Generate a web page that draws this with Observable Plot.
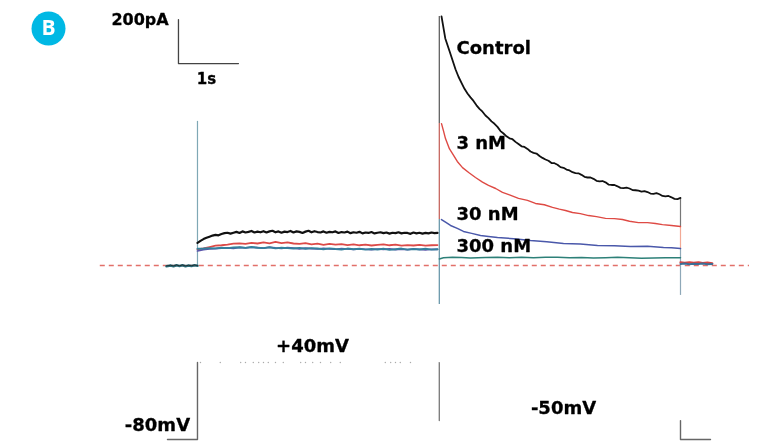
<!DOCTYPE html>
<html><head><meta charset="utf-8">
<script src="https://cdn.jsdelivr.net/npm/d3@7"></script>
<script src="https://cdn.jsdelivr.net/npm/@observablehq/plot@0.6"></script>
<style>html,body{margin:0;padding:0;background:#fff}svg{display:block;filter:blur(0.35px)}</style>
</head><body><div id="chart"></div>
<script>
// Time in s (0 = start of the +40 mV step), current in pA.
const fineT = d3.range(0, 4.04, 0.05);
const coarseT = d3.range(0, 4.04, 0.1);
const controlPlateau = [103,112,120,126,131,136,139,137,143,147,149,145,149,153,148,155,150,153,157,150,154,151,156,150,155,158,151,155,149,154,152,157,150,155,153,148,154,158,151,156,152,150,155,149,153,151,155,148,152,150,154,147,151,149,153,146,150,148,152,146,149,151,147,150,145,149,147,151,146,149,148,144,150,146,149,145,148,146,150,147,148];
const nM3Plateau = [73,78,84,90,92,95,99,101,98,103,100,105,101,107,102,105,100,98,102,96,99,94,98,95,97,93,96,92,95,91,94,96,92,95,90,93,91,94,90,92,93];
const nM30Plateau = [66,72,75,77,79,80,78,82,80,83,81,79,83,80,78,81,79,76,79,77,75,78,76,74,77,75,73,76,74,72,75,73,76,72,74,72,75,73,71,74,73];
const nM300Plateau = [76,77,79,78,81,79,82,83,80,84,81,79,83,78,81,79,77,80,76,79,77,74,78,75,73,77,74,76,72,75,73,76,71,74,77,72,75,73,76,72,74];

const controlT = [4.067,4.13,4.2,4.3,4.35,4.4,4.45,4.5,4.55,4.6,4.65,4.7,4.75,4.8,4.85,4.9,4.95,5.0,5.05,5.1,5.15,5.2,5.25,5.3,5.35,5.4,5.45,5.5,5.55,5.6,5.65,5.7,5.75,5.8,5.85,5.9,5.95,6.0,6.05,6.1,6.15,6.2,6.25,6.3,6.35,6.4,6.45,6.5,6.55,6.6,6.65,6.7,6.75,6.8,6.85,6.9,6.95,7.0,7.05,7.1,7.15,7.2,7.25,7.3,7.35,7.4,7.45,7.5,7.55,7.6,7.65,7.7,7.75,7.8,7.85,7.9,7.95,8.0,8.05];
const controlI = [1132,1032,975,892,858,830,803,782,764,748,728,712,699,682,670,655,644,630,611,600,587,578,574,562,552,542,539,530,518,512,509,498,489,482,476,466,465,458,447,444,436,432,424,420,419,412,403,400,400,394,385,382,384,378,368,366,366,360,353,352,354,350,343,342,340,336,338,334,327,326,329,324,316,314,316,310,303,302,307];
const nM3T = [4.067,4.1,4.133,4.2,4.25,4.33,4.417,4.52,4.633,4.75,4.85,4.97,5.083,5.2,5.35,5.5,5.633,5.78,5.917,6.03,6.133,6.25,6.38,6.517,6.65,6.8,6.95,7.083,7.2,7.35,7.5,7.633,7.75,7.9,8.05];
const nM3I = [645,612,577,530,509,473,445,423,400,379,364,350,332,321,305,296,282,276,264,256,250,241,236,227,222,214,213,209,201,195,195,191,186,182,177];
const nM30T = [4.067,4.14,4.217,4.33,4.433,4.57,4.717,4.85,5.0,5.27,5.55,5.82,6.1,6.38,6.667,6.95,7.217,7.5,7.767,7.9,8.05];
const nM30I = [209,196,182,169,155,146,136,132,127,122,114,108,100,98,91,90,86,87,82,81,77];
const nM300T = [4.03,4.1,4.25,4.4,4.55,4.8,5.0,5.2,5.4,5.6,5.8,6.0,6.2,6.4,6.6,6.8,7.0,7.2,7.4,7.6,7.8,8.05];
const nM300I = [30,35,37,36,34,36,38,35,37,35,37,38,35,36,34,35,37,35,33,34,35,35];

const preT = [-0.517,-0.45,-0.4,-0.35,-0.3,-0.25,-0.2,-0.15,-0.1,-0.05,0];
const preI = [-3,0,-3,1,-2,1,-3,0,-2,1,-1];
const postT = [8.05,8.12,8.2,8.27,8.35,8.42,8.5,8.58];
const postControl = [14,12,14,12,14,11,13,10];
const postBlue = [7,9,6,8,7,9,6,7];

// Capacitive transients at each voltage step
const spikeT = [0,4.03,4.03,4.03,8.05,8.05,8.05];
const spikeTop = [655,1132,645,209,305,177,77];
const spikeBottom = [0,645,209,-177,177,77,-136];
const spikeColor = ["#7fa8b5","#555555","#c25a52","#5f90a4","#777777","#f2a995","#8ea8b8"];

// Voltage protocol sketch, in the same axis units
const stimT = [-0.5,0,0];
const stimY = [-791,-791,-441];
const stimStepT = [4.03,4.03];
const stimStepY = [-441,-705];
const stimEndT = [8.05,8.05,8.55];
const stimEndY = [-705,-791,-791];
const faintT = [0.05,0.38,0.72,0.8,0.93,1.02,1.1,1.18,1.3,1.43,1.72,1.8,1.92,2.05,2.22,2.38,3.13,3.22,3.3,3.38,3.55];

// Scale bar: 1 s by 200 pA
const barT = [-0.317,-0.317,0.683];
const barI = [1118,918,918];

const labelText = ["Control","3 nM","30 nM","300 nM"];
const labelT = [4.317,4.317,4.317,4.317];
const labelI = [986,555,232,86];
const noteText = ["200pA","1s","+40mV","-80mV","-50mV"];
const noteT = [-0.958,0.15,1.917,-0.667,6.1];
const noteI = [1118,845,-368,-727,-650];
const noteSize = [16,15,18,18,18];

const rows = (xs, ys) => xs.map((x, i) => ({x, y: ys[i]}));
const trace = (xs, ys, stroke, strokeWidth = 1.1) =>
  Plot.line(rows(xs, ys), {x: "x", y: "y", stroke, strokeWidth});

const spikes = spikeT.map((x, i) => ({x, y1: spikeBottom[i], y2: spikeTop[i], c: spikeColor[i]}));

const chart = Plot.plot({
  width: 758, height: 443,
  marginTop: 0, marginRight: 0, marginBottom: 0, marginLeft: 0,
  x: {domain: [-3.283, 9.35], range: [0, 758], axis: null},
  y: {domain: [-809, 1204.5], range: [443, 0], axis: null},
  style: {background: "#fff"},
  marks: [
    Plot.ruleY([0], {x1: -1.62, x2: 9.2, stroke: "#e2706a", strokeWidth: 1.4, strokeDasharray: "5,4"}),
    Plot.ruleX(spikes, {x: "x", y1: "y1", y2: "y2", stroke: d => d.c, strokeWidth: 1.2}),
    trace(preT, preI, "#2c6f7c", 2.6),
    trace(preT, preI.map(v => v + 1), "#222", 0.8),
    trace(postT, postControl, "#d9433f", 2.2),
    trace(postT, postBlue, "#3c6f96", 2),
    trace(fineT, controlPlateau, "#111", 2.2),
    trace(coarseT, nM3Plateau, "#dc4a48", 1.8),
    trace(coarseT, nM30Plateau, "#5a55aa", 1.7),
    trace(coarseT, nM300Plateau, "#34809c", 1.9),
    trace(controlT, controlI, "#111", 1.8),
    trace(nM3T, nM3I, "#de4a44", 1.4),
    trace(nM30T, nM30I, "#4a58aa", 1.5),
    trace(nM300T, nM300I, "#2d8078", 1.5),
    trace(stimT, stimY, "#666", 1.4),
    trace(stimStepT, stimStepY, "#777", 1.3),
    trace(stimEndT, stimEndY, "#666", 1.4),
    Plot.dot(faintT, {x: d => d, y: -441, r: 0.7, fill: "#aaa"}),
    trace(barT, barI, "#444", 1.3),
    Plot.text(labelText, {x: (d, i) => labelT[i], y: (d, i) => labelI[i], text: d => d, textAnchor: "start",
      fontFamily: "DejaVu Sans", fontWeight: "bold", fontSize: 18, fill: "#000", stroke: "#000", strokeWidth: 0.3}),
    Plot.text(noteText, {x: (d, i) => noteT[i], y: (d, i) => noteI[i], text: d => d, textAnchor: "middle",
      fontFamily: "DejaVu Sans", fontWeight: "bold", fontSize: (d, i) => noteSize[i], fill: "#000", stroke: "#000", strokeWidth: 0.3}),
    Plot.dot(["B"], {x: -2.483, y: 1077, r: 17, fill: "#00b8e4", stroke: "none"}),
    Plot.text(["B"], {x: -2.483, y: 1077, text: d => d, fill: "#fff", fontFamily: "Open Sans", fontWeight: "bold", fontSize: 21})
  ]
});
document.getElementById("chart").append(chart);
</script></body></html>
